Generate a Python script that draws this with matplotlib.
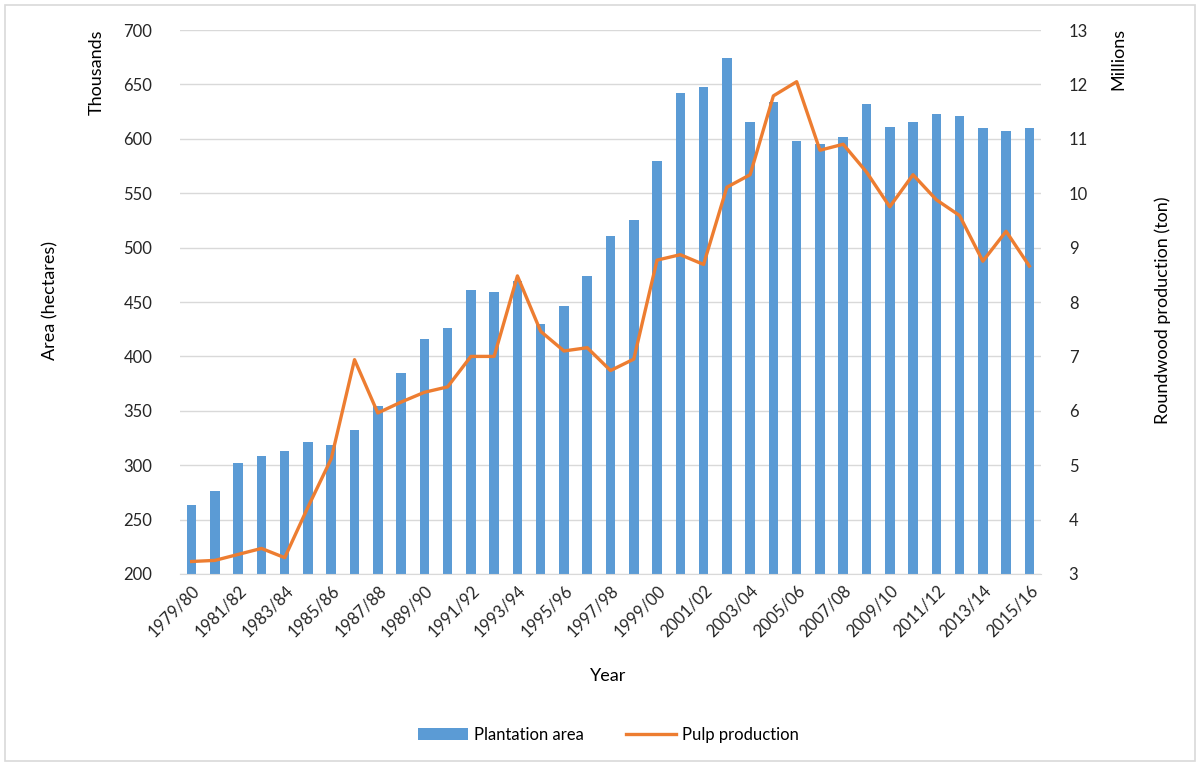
import numpy as np
import matplotlib
matplotlib.use('Agg')
import matplotlib.pyplot as plt
from matplotlib.patches import Rectangle

plt.rcParams['font.family'] = ['Lato', 'DejaVu Sans']

years = [f'{y}/{str(y + 1)[-2:]}' for y in range(1979, 2016)]
plantation_area = [263, 276, 302, 308, 313, 321, 319, 332, 354, 385,
                   416, 426, 461, 459, 469, 430, 446, 474, 511, 525,
                   580, 642, 648, 674, 615, 634, 598, 595, 602, 632,
                   611, 615, 623, 621, 610, 607, 610]
pulp_production = [3.23, 3.25, 3.36, 3.47, 3.30, 4.23, 5.12, 6.94, 5.96, 6.16,
                   6.34, 6.44, 7.0, 7.0, 8.48, 7.46, 7.10, 7.16, 6.74, 6.95,
                   8.77, 8.87, 8.69, 10.11, 10.34, 11.79, 12.05, 10.79, 10.90, 10.39,
                   9.75, 10.34, 9.88, 9.59, 8.75, 9.30, 8.66]

bar_color = '#5B9BD5'
line_color = '#ED7D31'
grid_color = '#D9D9D9'
text_color = '#262626'

fig = plt.figure(figsize=(12, 7.64), dpi=100)
fig.patches.append(Rectangle((0.004, 0.004), 0.992, 0.99, transform=fig.transFigure,
                             fill=False, edgecolor='#D9D9D9', linewidth=1.2))

ax = fig.add_axes([0.150, 0.2487, 0.7175, 0.712])
x = np.arange(len(years))
ax.bar(x, plantation_area, width=0.41, color=bar_color, zorder=2, label='Plantation area')
ax.set_ylim(200, 700)
ax.set_yticks(range(200, 701, 50))
ax.set_xlim(-0.5, len(years) - 0.5)
ax.grid(axis='y', color=grid_color, linewidth=1, zorder=0)
ax.set_axisbelow(True)
for s in ['top', 'left', 'right']:
    ax.spines[s].set_visible(False)
ax.spines['bottom'].set_color(grid_color)
ax.tick_params(axis='both', length=0, labelsize=12, colors=text_color)
ax.tick_params(axis='y', pad=20)
ax.set_xticks(x[::2])
ax.set_xticklabels(years[::2], rotation=45, ha='right', rotation_mode='anchor')
ax.tick_params(axis='x', pad=6)

ax2 = ax.twinx()
ax2.plot(x, pulp_production, color=line_color, linewidth=2.4, zorder=3, label='Pulp production')
ax2.set_ylim(3, 13)
ax2.set_yticks(range(3, 14))
for s in ['top', 'left', 'right', 'bottom']:
    ax2.spines[s].set_visible(False)
ax2.tick_params(axis='y', length=0, labelsize=12, colors=text_color, pad=20)

fig.text(0.081, 0.961, 'Thousands', rotation=90, ha='center', va='top', fontsize=13, color='black')
fig.text(0.042, 0.607, 'Area (hectares)', rotation=90, ha='center', va='center', fontsize=13, color='black')
fig.text(0.932, 0.963, 'Millions', rotation=90, ha='center', va='top', fontsize=13, color='black')
fig.text(0.969, 0.594, 'Roundwood production (ton)', rotation=90, ha='center', va='center', fontsize=13, color='black')
fig.text(0.507, 0.115, 'Year', ha='center', va='center', fontsize=13, color='black')

h1, l1 = ax.get_legend_handles_labels()
h2, l2 = ax2.get_legend_handles_labels()
fig.legend(h1 + h2, l1 + l2, loc='center', bbox_to_anchor=(0.507, 0.038), ncol=2,
           frameon=False, fontsize=12, handlelength=3, columnspacing=2.5, handletextpad=0.4)

fig.savefig('out.png', dpi=100)
